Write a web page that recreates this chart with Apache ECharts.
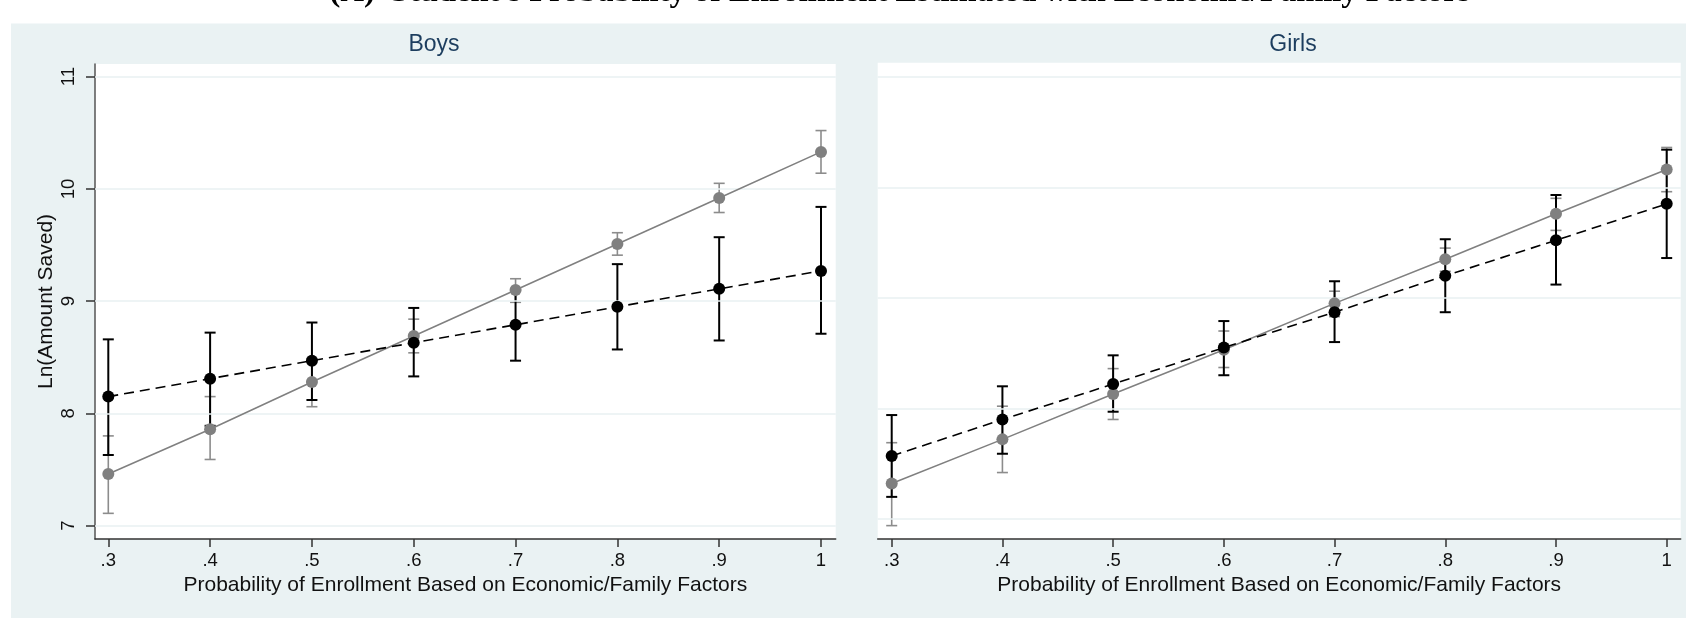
<!DOCTYPE html>
<html><head><meta charset="utf-8">
<script src="https://cdn.jsdelivr.net/npm/echarts@6/dist/echarts.min.js"></script>
<style>html,body{margin:0;padding:0;background:#fff}#c{width:1686px;height:618px}</style>
</head><body><div id="c"></div>
<script>
// ---- data ----
const xValues = [0.3, 0.4, 0.5, 0.6, 0.7, 0.8, 0.9, 1.0];
const xTickLabels = ['.3', '.4', '.5', '.6', '.7', '.8', '.9', '1'];
const yTicks = [7, 8, 9, 10, 11];
const yTickLabels = ['7', '8', '9', '10', '11'];

const boysGrayMean  = [7.46, 7.86, 8.28, 8.69, 9.10, 9.51, 9.92, 10.33];
const boysGrayLow   = [7.11, 7.59, 8.06, 8.54, 8.99, 9.41, 9.79, 10.14];
const boysGrayHigh  = [7.80, 8.15, 8.49, 8.84, 9.20, 9.61, 10.05, 10.52];
const boysBlackMean = [8.15, 8.31, 8.47, 8.63, 8.79, 8.95, 9.11, 9.27];
const boysBlackLow  = [7.63, 7.89, 8.12, 8.33, 8.47, 8.57, 8.65, 8.71];
const boysBlackHigh = [8.66, 8.72, 8.81, 8.94, 9.10, 9.33, 9.57, 9.84];

const girlsGrayMean  = [7.32, 7.72, 8.13, 8.53, 8.95, 9.35, 9.76, 10.16];
const girlsGrayLow   = [6.94, 7.42, 7.90, 8.37, 8.83, 9.24, 9.61, 9.96];
const girlsGrayHigh  = [7.69, 8.02, 8.36, 8.70, 9.06, 9.45, 9.90, 10.36];
const girlsBlackMean = [7.57, 7.90, 8.22, 8.55, 8.87, 9.20, 9.52, 9.85];
const girlsBlackLow  = [7.20, 7.59, 7.97, 8.30, 8.60, 8.87, 9.12, 9.36];
const girlsBlackHigh = [7.94, 8.20, 8.48, 8.79, 9.15, 9.53, 9.93, 10.34];

const mainTitle = "(A)  Student's Probability of Enrollment Estimated with Economic/Family Factors";
const panelTitles = ['Boys', 'Girls'];
const xTitle = 'Probability of Enrollment Based on Economic/Family Factors';
const yTitle = 'Ln(Amount Saved)';

// ---- helpers ----
const BG = '#eaf2f3';
const GRID = '#e8f0f2';
const GRAY = '#808080';
const GRAYBAR = '#8c8c8c';
const FONT = 'Liberation Sans, Arial, sans-serif';
const BOYS_XMIN = 0.28694, BOYS_XMAX = 1.01444;
const GIRLS_XMIN = 0.28735, GIRLS_XMAX = 1.01265;

function pts(xs, ys) { return xs.map((x, i) => [x, ys[i]]); }
function bars(xs, lo, hi) { return xs.map((x, i) => [x, lo[i], hi[i]]); }
function fmtX(v) { const i = xValues.findIndex(t => Math.abs(t - v) < 1e-6); return i >= 0 ? xTickLabels[i] : ''; }

function errorBar(color, width, capHalf) {
  return function (params, api) {
    const x = api.value(0), lo = api.value(1), hi = api.value(2);
    const p1 = api.coord([x, lo]), p2 = api.coord([x, hi]);
    const st = { stroke: color, lineWidth: width, fill: null };
    return { type: 'group', children: [
      { type: 'line', shape: { x1: p1[0], y1: p1[1], x2: p2[0], y2: p2[1] }, style: st },
      { type: 'line', shape: { x1: p1[0] - capHalf, y1: p1[1], x2: p1[0] + capHalf, y2: p1[1] }, style: st },
      { type: 'line', shape: { x1: p2[0] - capHalf, y1: p2[1], x2: p2[0] + capHalf, y2: p2[1] }, style: st }
    ]};
  };
}

// rotated y tick labels (reading bottom-to-top), placed through the axis scale
function yLabelItem(params, api) {
  const v = api.value(0);
  const p = api.coord([BOYS_XMIN, v]);
  return { type: 'text', x: p[0] - 17, y: p[1], rotation: Math.PI / 2,
    style: { text: yTickLabels[params.dataIndex], align: 'center', verticalAlign: 'bottom',
      font: '18.5px "Liberation Sans", Arial, sans-serif', fill: '#111' } };
}

function xAxisCfg(idx, min, max) {
  return {
    type: 'value', gridIndex: idx, min: min, max: max,
    name: xTitle, nameLocation: 'middle', nameGap: 34,
    nameTextStyle: { fontFamily: FONT, fontSize: 21, color: '#111' },
    axisLine: { show: true, lineStyle: { color: '#333', width: 1.5 } },
    axisTick: { show: true, length: 8, customValues: xValues, lineStyle: { color: '#333', width: 1.5 } },
    axisLabel: { show: true, customValues: xValues, formatter: fmtX, margin: 12, fontFamily: FONT, fontSize: 18.5, color: '#111' },
    splitLine: { show: false }
  };
}

function gridLines(xi, yi) {
  return {
    type: 'line', xAxisIndex: xi, yAxisIndex: yi, data: [], z: 1, silent: true,
    markLine: { silent: true, symbol: 'none', animation: false, label: { show: false },
      lineStyle: { color: GRID, width: 1.5, type: 'solid' },
      data: yTicks.map(v => ({ yAxis: v })) }
  };
}

function panelSeries(i, grayMean, grayLo, grayHi, blackMean, blackLo, blackHi) {
  return [
    gridLines(i, i),
    { type: 'custom', xAxisIndex: i, yAxisIndex: i, z: 3, renderItem: errorBar(GRAYBAR, 1.6, 5.5),
      encode: { x: 0, y: [1, 2] }, data: bars(xValues, grayLo, grayHi) },
    { type: 'custom', xAxisIndex: i, yAxisIndex: i, z: 4, renderItem: errorBar('#000', 2, 5.5),
      encode: { x: 0, y: [1, 2] }, data: bars(xValues, blackLo, blackHi) },
    { type: 'line', xAxisIndex: i, yAxisIndex: i, z: 5, data: pts(xValues, grayMean),
      symbol: 'circle', symbolSize: 12, showSymbol: true,
      lineStyle: { color: GRAY, width: 1.6 }, itemStyle: { color: GRAY } },
    { type: 'line', xAxisIndex: i, yAxisIndex: i, z: 6, data: pts(xValues, blackMean),
      symbol: 'circle', symbolSize: 12, showSymbol: true,
      lineStyle: { color: '#000', width: 1.6, type: [10, 6] }, itemStyle: { color: '#000' } }
  ];
}

const chart = echarts.init(document.getElementById('c'), null, { renderer: 'canvas' });
chart.setOption({
  animation: false,
  backgroundColor: '#ffffff',
  graphic: [
    { type: 'rect', z: -10, shape: { x: 11, y: 23.5, width: 1700, height: 620 }, style: { fill: BG } },
    { type: 'text', z: 10, style: { text: mainTitle, x: 900, y: -7, align: 'center', verticalAlign: 'middle',
      font: 'bold 32.5px "Liberation Serif", "Times New Roman", serif', fill: '#000' } },
    { type: 'text', z: 10, style: { text: panelTitles[0], x: 434, y: 45, align: 'center', verticalAlign: 'middle',
      font: '23px "Liberation Sans", Arial, sans-serif', fill: '#1c3d5e' } },
    { type: 'text', z: 10, style: { text: panelTitles[1], x: 1293, y: 45, align: 'center', verticalAlign: 'middle',
      font: '23px "Liberation Sans", Arial, sans-serif', fill: '#1c3d5e' } }
  ],
  grid: [
    { left: 95, right: 850.3, top: 64, bottom: 79, show: true, backgroundColor: '#fff', borderWidth: 0 },
    { left: 877.7, right: 5.3, top: 62.7, bottom: 79, show: true, backgroundColor: '#fff', borderWidth: 0 }
  ],
  xAxis: [xAxisCfg(0, BOYS_XMIN, BOYS_XMAX), xAxisCfg(1, GIRLS_XMIN, GIRLS_XMAX)],
  yAxis: [
    { type: 'value', gridIndex: 0, min: 6.8815, max: 11.113,
      name: yTitle, nameLocation: 'middle', nameGap: 38,
      nameTextStyle: { fontFamily: FONT, fontSize: 21, color: '#111' },
      axisLine: { show: true, lineStyle: { color: '#555', width: 1.5 } },
      axisTick: { show: true, length: 9, customValues: yTicks, lineStyle: { color: '#333', width: 1.5 } },
      axisLabel: { show: false },
      splitLine: { show: false } },
    { type: 'value', gridIndex: 1, min: 6.819, max: 11.1266,
      axisLine: { show: false }, axisTick: { show: false }, axisLabel: { show: false }, splitLine: { show: false } }
  ],
  series: [].concat(
    panelSeries(0, boysGrayMean, boysGrayLow, boysGrayHigh, boysBlackMean, boysBlackLow, boysBlackHigh),
    panelSeries(1, girlsGrayMean, girlsGrayLow, girlsGrayHigh, girlsBlackMean, girlsBlackLow, girlsBlackHigh),
    [{ type: 'custom', xAxisIndex: 0, yAxisIndex: 0, z: 7, silent: true, clip: false,
       renderItem: yLabelItem, encode: { y: 0 }, data: yTicks.map(v => [v]) }]
  )
});
</script></body></html>
